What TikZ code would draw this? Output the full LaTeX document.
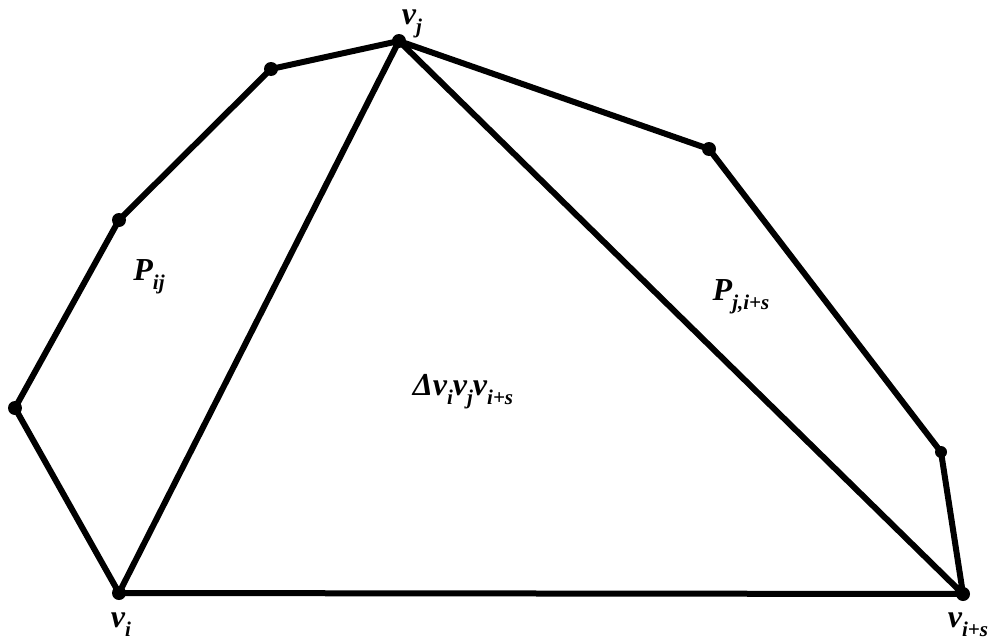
\documentclass[tikz,border=0pt]{standalone}
\usepackage{fontspec}
\setmainfont{Liberation Serif}
\newcommand{\lowsub}[1]{\raisebox{-0.28em}{\fontsize{21}{21}\selectfont #1}}
\begin{document}
\begin{tikzpicture}[x=1pt,y=-1pt,
  edge/.style={line width=6pt,line cap=round,line join=round},
  pt/.style={circle,fill=black,inner sep=0pt,minimum size=14pt},
  lbl/.style={font=\fontsize{32}{32}\selectfont\bfseries\itshape,inner sep=0pt}]
\useasboundingbox (0,0) rectangle (1005,640);
\node[pt] (vi) at (119,593) {};
\node[pt] (vs) at (963,594) {};
\node[pt] (vj) at (399,41) {};
\node[pt] (a) at (271,69) {};
\node[pt] (b) at (119,220) {};
\node[pt] (c) at (15,408) {};
\node[pt] (d) at (709,149) {};
\node[pt,minimum size=12pt] (e) at (941,452) {};
\draw[edge] (vi.center) -- (c.center) -- (b.center) -- (a.center) -- (vj.center) -- (d.center) -- (e.center) -- (vs.center) -- (vi.center) -- (vj.center) -- (vs.center);
\node[lbl] (lj) at (412,24) {v\lowsub{j}};
\node[lbl] (li) at (121,625) {v\lowsub{i}};
\node[lbl] (ls) at (968,625) {v\lowsub{i+s}};
\node[lbl] (pij) at (149,277) {P\lowsub{ij}};
\node[lbl] (pjs) at (741,297) {P\lowsub{j,i+s}};
\node[lbl] (tri) at (463,392) {Δv\lowsub{i}v\lowsub{j}v\lowsub{i+s}};
\end{tikzpicture}
\end{document}
